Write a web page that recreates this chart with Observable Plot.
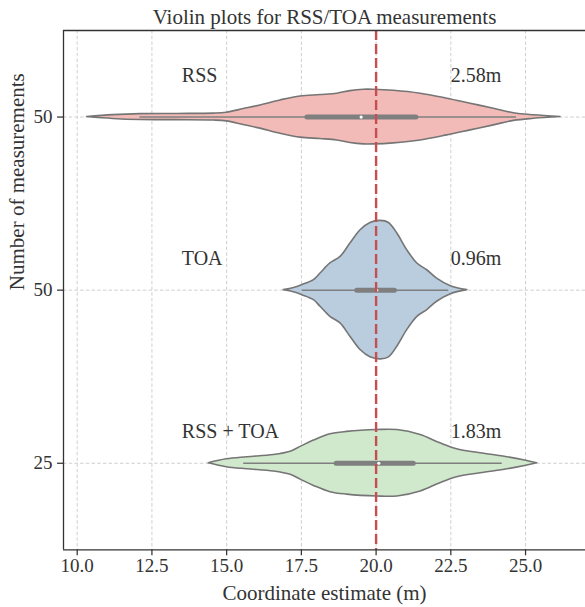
<!DOCTYPE html>
<html>
<head>
<meta charset="utf-8">
<script src="https://cdn.jsdelivr.net/npm/d3@7"></script>
<script src="https://cdn.jsdelivr.net/npm/@observablehq/plot@0.6"></script>
<style>
  html, body { margin: 0; padding: 0; background: #fff; }
</style>
</head>
<body>
<div id="chart"></div>
<script>
// ---- data ----
const categories = ["RSS", "TOA", "RSS + TOA"];
const countLabels = ["50", "50", "25"];
const errorLabels = ["2.58m", "0.96m", "1.83m"];
const xTicks = [10, 12.5, 15, 17.5, 20, 22.5, 25];
const trueValue = 20;

// violin profiles: coordinate estimate and half-width (category units)
const rssX = [10.33, 11.2, 12.12, 13.35, 14.57, 15.0, 15.57, 16.13, 16.80, 17.47, 18.14, 18.70, 19.14, 19.59, 19.92, 20.59, 21.49, 22.38, 23.16, 23.94, 24.61, 25.28, 26.17];
const rssW = [0, 0.011, 0.017, 0.018, 0.020, 0.025, 0.046, 0.067, 0.096, 0.119, 0.127, 0.135, 0.150, 0.158, 0.158, 0.152, 0.135, 0.106, 0.077, 0.048, 0.022, 0.010, 0];

const toaX = [16.91, 17.25, 17.53, 17.92, 18.14, 18.47, 18.81, 19.14, 19.48, 19.81, 20.15, 20.43, 20.71, 21.04, 21.38, 21.71, 22.04, 22.50, 23.05];
const toaW = [0, 0.012, 0.029, 0.058, 0.096, 0.154, 0.192, 0.269, 0.346, 0.388, 0.400, 0.388, 0.327, 0.231, 0.154, 0.115, 0.067, 0.023, 0];

const bothX = [14.40, 15.00, 15.69, 16.58, 17.14, 17.49, 17.92, 18.47, 19.03, 20.04, 20.71, 21.49, 22.15, 22.71, 23.49, 24.39, 24.98, 25.39];
const bothW = [0, 0.023, 0.035, 0.048, 0.067, 0.096, 0.131, 0.167, 0.181, 0.192, 0.192, 0.163, 0.115, 0.081, 0.058, 0.035, 0.016, 0];

// inner box statistics
const whiskerLo = [12.1, 17.53, 15.57];
const whiskerHi = [24.7, 22.43, 24.22];
const q1 = [17.7, 19.37, 18.68];
const q3 = [21.35, 20.63, 21.26];
const medians = [19.5, 20.02, 20.09];

// annotation anchors (data coordinates)
const labelX = [13.5, 22.5];
const labelY = [-0.24, 0.82, 1.82];

// ---- build tables ----
const profiles = [[rssX, rssW], [toaX, toaW], [bothX, bothW]].map(([xs, ws], i) =>
  xs.map((x, k) => ({i, x, w: ws[k]})));
const stats = categories.map((c, i) => ({
  i, lo: whiskerLo[i], hi: whiskerHi[i], q1: q1[i], q3: q3[i], med: medians[i]
}));
const annotations = categories.flatMap((c, i) => [
  {x: labelX[0], y: labelY[i], text: c},
  {x: labelX[1], y: labelY[i], text: errorLabels[i]}
]);

const fills = ["#f3bbb8", "#b9cddf", "#d0e8cc"];
const edge = "#757575";
const ink = "#333333";

const xMin = 10 - (76.7 - 63) / 29.89;
const xMax = 10 + (585 - 76.7) / 29.89;

const chart = Plot.plot({
  width: 585,
  height: 607,
  marginLeft: 63,
  marginRight: 0,
  marginTop: 30,
  marginBottom: 57.7,
  style: {fontFamily: "'Liberation Serif', serif", color: ink, background: "#fff"},
  x: {domain: [xMin, xMax], label: null},
  y: {domain: [-0.5, 2.5], reverse: true, label: null},
  marks: [
    // grid
    Plot.ruleX(xTicks, {stroke: "#cfcfcf", strokeWidth: 1, strokeDasharray: "3.5,2.2"}),
    Plot.ruleY([0, 1, 2], {stroke: "#cfcfcf", strokeWidth: 1, strokeDasharray: "3.5,2.2"}),
    // violins
    ...profiles.map((rows, i) => Plot.areaY(rows, {
      x: "x", y1: d => d.i - d.w, y2: d => d.i + d.w,
      fill: fills[i], stroke: edge, strokeWidth: 1.6, curve: "catmull-rom"
    })),
    // inner box
    Plot.ruleY(stats, {y: "i", x1: "lo", x2: "hi", stroke: "#7f7f7f", strokeWidth: 1.5}),
    Plot.ruleY(stats, {y: "i", x1: "q1", x2: "q3", stroke: "#7f7f7f", strokeWidth: 5, strokeLinecap: "round"}),
    Plot.dot(stats, {y: "i", x: "med", r: 1.6, fill: "white", stroke: null}),
    // true value
    Plot.ruleX([trueValue], {stroke: "#c44e52", strokeWidth: 2.4, strokeDasharray: "10,4"}),
    // annotations
    Plot.text(annotations, {x: "x", y: "y", text: "text", textAnchor: "start", fontSize: 20, fill: ink}),
    // frame (left, top, bottom)
    Plot.ruleX([xMin], {stroke: ink, strokeWidth: 1.3}),
    Plot.ruleY([-0.5, 2.5], {stroke: ink, strokeWidth: 1.3}),
    // axes
    Plot.axisX(xTicks, {tickSize: 6, tickPadding: 3, tickFormat: d3.format(".1f"), fontSize: 19, strokeWidth: 1.25, label: null}),
    Plot.axisY([0, 1, 2], {tickSize: 6, tickPadding: 5, tickFormat: i => countLabels[i], fontSize: 19, strokeWidth: 1.25, label: null}),
    // titles
    Plot.text(["Violin plots for RSS/TOA measurements"], {text: d => d, frameAnchor: "top", dy: -7, lineAnchor: "bottom", fontSize: 21, fill: ink}),
    Plot.text(["Coordinate estimate (m)"], {text: d => d, frameAnchor: "bottom", dy: 50, lineAnchor: "bottom", fontSize: 21, fill: ink}),
    Plot.text(["Number of measurements"], {text: d => d, frameAnchor: "left", dx: -46, rotate: -90, lineAnchor: "middle", fontSize: 21, fill: ink})
  ]
});
document.getElementById("chart").appendChild(chart);
</script>
</body>
</html>
